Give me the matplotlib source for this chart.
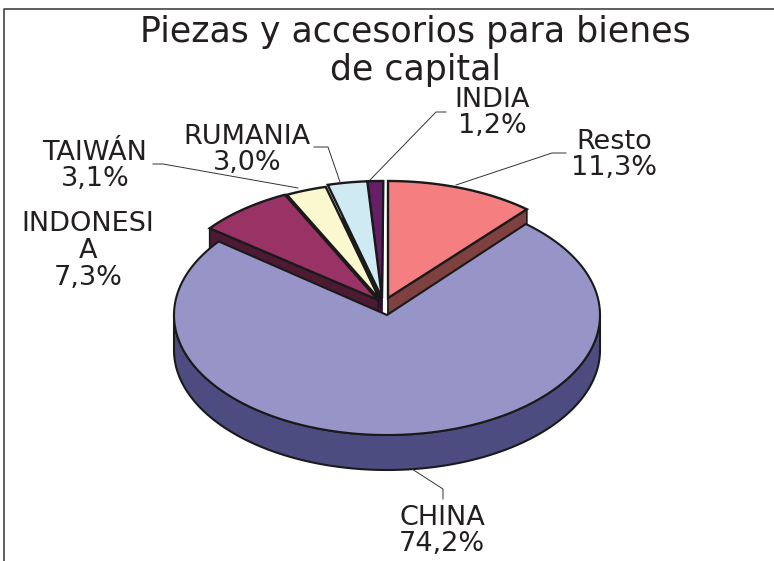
import numpy as np
import matplotlib
matplotlib.use("Agg")
import matplotlib.pyplot as plt
from matplotlib.patches import Polygon

# datos, en sentido horario desde las 12
categorias = ["Resto", "CHINA", "INDONESIA", "TAIWÁN", "RUMANIA", "INDIA"]
valores = [11.3, 74.2, 7.3, 3.1, 3.0, 1.2]
etiquetas = ["Resto\n11,3%", "CHINA\n74,2%", "INDONESI\nA\n7,3%",
             "TAIWÁN\n3,1%", "RUMANIA\n3,0%", "INDIA\n1,2%"]
titulo = "Piezas y accesorios para bienes\nde capital"

# estilo, todo en pixeles de la imagen
colores = ["#F57F80", "#9794C8", "#993366", "#FBF7CF", "#CFEAF3", "#661F66"]
lados = ["#7F4040", "#4D4C80", "#4D1A33", "#2a2a24", "#2a2a24", "#330F33"]
desplaz = [(1, -17), (0, 0), (-9, -15), (-7, -15), (-5, -17), (-5, -17)]
ry_cara = [117, 120, 117, 117, 117, 117]
pos_etq = [(614, 154), (442, 530), (88, 250), (95, 165), (247, 149), (492, 112)]
guias = [
    [(456, 185), (552, 153), (566, 153)],
    [(412, 469), (443, 489), (443, 499)],
    None,
    [(298, 188), (163, 164), (153, 164)],
    [(340, 182), (328, 147), (314, 147)],
    [(370, 180), (436, 112), (446, 112)],
]
CX, CY, RX, PROF = 387, 315, 213, 35
BORDE = "#1a1a1a"
TEXTO = "#231f20"


def cara(i, a0, a1):
    """Poligono de la porcion i entre los angulos a0 y a1 (grados desde las 12)."""
    t = np.radians(np.linspace(a0, a1, 200))
    dx, dy = desplaz[i]
    x0, y0 = CX + dx, CY + dy
    x = x0 + RX * np.sin(t)
    y = y0 - ry_cara[i] * np.cos(t)
    return np.column_stack([np.r_[x0, x], np.r_[y0, y]])


fig = plt.figure(figsize=(7.74, 5.61), dpi=100)
ax = fig.add_axes([0, 0, 1, 1])
ax.set_xlim(0, 774)
ax.set_ylim(561, 0)
ax.axis("off")

# marco: solo izquierda y arriba llegan a verse
ax.plot([3.5, 3.5, 774], [561, 8.5, 8.5], color="#333333", lw=1.1)

angulos = np.r_[0, np.cumsum(valores)] * 3.6
orden = [5, 4, 3, 2, 0]

# costados de las porciones del fondo; CHINA las tapa despues
for i in orden:
    p = cara(i, angulos[i], angulos[i + 1])
    ax.add_patch(Polygon(p + [0, PROF], closed=True, fc=lados[i], ec=lados[i], lw=0.8))
    # corte visible: derecha en Resto, izquierda en INDONESIA
    if i in (0, 2):
        borde = p[-1] if i == 0 else p[1]
        q = [p[0], borde, borde + [0, PROF], p[0] + [0, PROF]]
        ax.add_patch(Polygon(q, closed=True, fc=lados[i], ec=BORDE, lw=1.2))
for i in orden:
    ax.add_patch(Polygon(cara(i, angulos[i], angulos[i + 1]), closed=True,
                         fc=colores[i], ec=BORDE, lw=1.7))

# CHINA: costado frontal y cara superior
t = np.radians(np.linspace(90, 270, 300))
xs = CX + RX * np.sin(t)
ys = CY - ry_cara[1] * np.cos(t)
costado = np.column_stack([np.r_[xs, xs[::-1]], np.r_[ys, ys[::-1] + PROF]])
ax.add_patch(Polygon(costado, closed=True, fc=lados[1], ec=BORDE, lw=1.5))
ax.add_patch(Polygon(cara(1, angulos[1], angulos[2]), closed=True,
                     fc=colores[1], ec=BORDE, lw=1.5))

# lineas guia y etiquetas
for g in guias:
    if g is not None:
        ax.plot(*zip(*g), color="#333333", lw=0.7)
for etq, (x, y) in zip(etiquetas, pos_etq):
    ax.text(x, y + 1, etq, ha="center", va="center", fontsize=19.5, color=TEXTO,
            linespacing=1.04, family="DejaVu Sans")
ax.text(415, 51, titulo, ha="center", va="center", fontsize=25, color=TEXTO,
        linespacing=1.12, family="DejaVu Sans")

fig.savefig("out.png", dpi=100)
plt.close(fig)
